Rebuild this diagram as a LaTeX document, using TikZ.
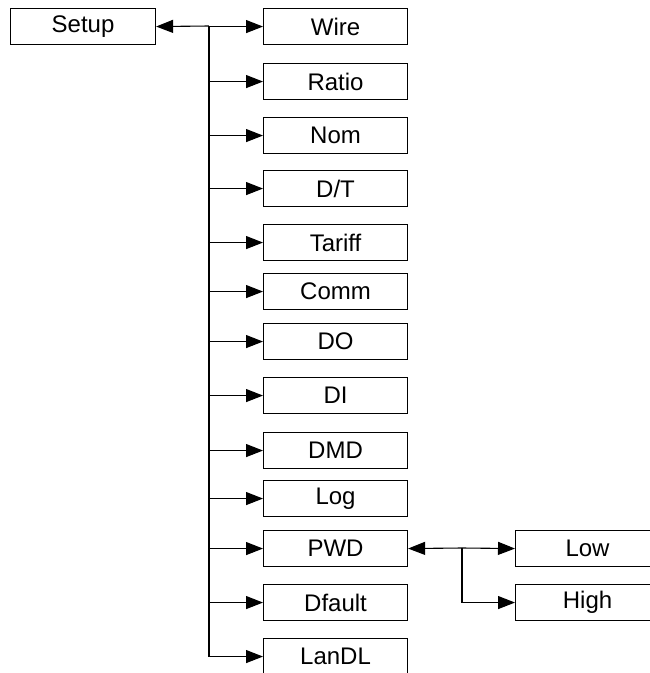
\documentclass[tikz,border=0pt]{standalone}
\usepackage{fontspec}
\setmainfont{Liberation Sans}
\usetikzlibrary{arrows.meta}
\begin{document}
\begin{tikzpicture}[x=1pt,y=-1pt,
  box/.style={draw, line width=1.1pt, minimum width=144pt, minimum height=36pt, inner sep=0pt, anchor=north west, font=\fontsize{24}{26}\selectfont},
  conn/.style={line width=1.1pt, -{Triangle[length=17pt,width=13pt]}},
  trunk/.style={line width=1.1pt}]
\clip (0,0) rectangle (650,673);
\fill[white] (0,0) rectangle (650,673);
\node[box, minimum width=145pt] (setup) at (10,8) {Setup};
\node[box] (wire)   at (263,8)   {Wire};
\node[box] (ratio)  at (263,63)  {Ratio};
\node[box] (nom)    at (263,117) {Nom};
\node[box] (dt)     at (263,170) {D/T};
\node[box] (tariff) at (263,224) {Tariff};
\node[box] (comm)   at (263,273) {Comm};
\node[box] (do)     at (263,323) {DO};
\node[box] (di)     at (263,377) {DI};
\node[box] (dmd)    at (263,432) {DMD};
\node[box] (log)    at (263,480) {Log};
\node[box] (pwd)    at (263,530) {PWD};
\node[box] (dfault) at (263,584) {Dfault};
\node[box] (landl)  at (263,638) {LanDL};
\node[box] (low)    at (515,530) {Low};
\node[box] (high)   at (515,584) {High};
\coordinate (t0) at (209,26);
\coordinate (p0) at (462,548);
\draw[trunk] (t0) -- (t0 |- landl.west);
\draw[conn] (t0) -- (setup.east);
\foreach \n in {wire,ratio,nom,dt,tariff,comm,do,di,dmd,log,pwd,dfault,landl}
  \draw[conn] (t0 |- \n.west) -- (\n.west);
\draw[trunk] (p0) -- (p0 |- high.west);
\draw[conn] (p0) -- (pwd.east);
\draw[conn] (p0) -- (low.west);
\draw[conn] (p0 |- high.west) -- (high.west);
\end{tikzpicture}
\end{document}
